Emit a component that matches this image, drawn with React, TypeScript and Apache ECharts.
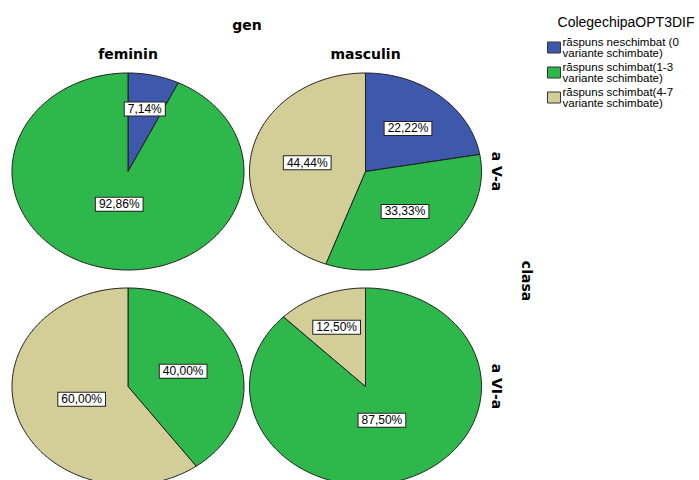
import React, { useEffect, useRef } from "react";
import * as echarts from "echarts";

// ---- data ----
const legendTitle = "ColegechipaOPT3DIF";
const outerTitle = "gen";
const rowTitle = "clasa";
const genders = ["feminin", "masculin"];
const classes = ["a V-a", "a VI-a"];
const categories = [
  "răspuns neschimbat (0\nvariante schimbate)",
  "răspuns schimbat(1-3\nvariante schimbate)",
  "răspuns schimbat(4-7\nvariante schimbate)",
];
// panel order: feminin·a V-a, masculin·a V-a, feminin·a VI-a, masculin·a VI-a
const neschimbat = [7.14, 22.22, 0, 0];
const schimbat13 = [92.86, 33.33, 40.0, 87.5];
const schimbat47 = [0, 44.44, 60.0, 12.5];
const seriesValues = [neschimbat, schimbat13, schimbat47];
const colors = ["#3e58ac", "#2eb84b", "#d3ce98"];

// ---- layout ----
const COL_CX = [128, 365.5];
const ROW_CY = [171.5, 386.5];
const RX = 116;
const RY = 98.5;
const LABEL_F = [
  [0.65, 0.34, 0],
  [0.57, 0.53, 0.51],
  [0, 0.5, 0.42],
  [0, 0.37, 0.65],
];

const fmt = (v: number) => v.toFixed(2).replace(".", ",") + "%";

export default function App() {
  const ref = useRef<HTMLDivElement>(null);
  useEffect(() => {
    document.body.style.margin = "0";
    const chart = echarts.init(ref.current!, null, { renderer: "svg" });
    const series = categories.map((name, k) => ({
      type: "custom",
      name,
      coordinateSystem: "none",
      itemStyle: { color: colors[k] },
      data: seriesValues[k].map((v, p) => [p, v]),
      renderItem: (params: any, api: any) => {
        const p = api.value(0);
        const v = api.value(1);
        if (!v) return null;
        const kk = params.seriesIndex;
        const vals = seriesValues.map((a) => a[p]);
        const total = vals.reduce((s, x) => s + x, 0);
        let before = 0;
        for (let i = 0; i < kk; i++) before += vals[i];
        const a0 = (before / total) * Math.PI * 2;
        const a1 = ((before + v) / total) * Math.PI * 2;
        const cx = COL_CX[p % 2];
        const cy = ROW_CY[Math.floor(p / 2)];
        const pts: number[][] = [[cx, cy]];
        const n = Math.max(2, Math.ceil(((a1 - a0) / (Math.PI * 2)) * 360));
        for (let i = 0; i <= n; i++) {
          const a = a0 + ((a1 - a0) * i) / n;
          pts.push([cx + RX * Math.sin(a), cy - RY * Math.cos(a)]);
        }
        const am = (a0 + a1) / 2;
        const f = LABEL_F[p][kk];
        const lx = cx + f * RX * Math.sin(am);
        const ly = cy - f * RY * Math.cos(am);
        return {
          type: "group",
          children: [
            {
              type: "polygon",
              shape: { points: pts },
              style: { fill: api.visual("color"), stroke: "#1e1e1e", lineWidth: 1 },
            },
            {
              type: "text",
              x: lx,
              y: ly,
              z2: 100,
              style: {
                text: fmt(v),
                fill: "#000",
                font: '12px "Liberation Sans", Arial, sans-serif',
                align: "center",
                verticalAlign: "middle",
                backgroundColor: "#fff",
                borderColor: "#222",
                borderWidth: 1,
                padding: [1, 3, 0, 3],
              },
            },
          ],
        };
      },
    }));

    const boldFont = 'bold 14px "DejaVu Sans", sans-serif';
    chart.setOption({
      animation: false,
      backgroundColor: "#fff",
      legend: {
        orient: "vertical",
        left: 547,
        top: 36,
        padding: 0,
        itemWidth: 13,
        itemHeight: 11,
        itemGap: 2,
        icon: "rect",
        selectedMode: false,
        itemStyle: { borderColor: "#333", borderWidth: 1 },
        textStyle: {
          fontFamily: '"Liberation Sans", Arial, sans-serif',
          fontSize: 11.5,
          lineHeight: 11,
          color: "#000",
          padding: [0, 0, 0, -3],
        },
        data: categories,
      },
      graphic: [
        {
          type: "text",
          x: 626,
          y: 22,
          style: {
            text: legendTitle,
            font: '14px "Liberation Sans", Arial, sans-serif',
            fill: "#000",
            align: "center",
            verticalAlign: "middle",
          },
        },
        {
          type: "text",
          x: 247,
          y: 25,
          style: { text: outerTitle, font: boldFont, fill: "#000", align: "center", verticalAlign: "middle" },
        },
        ...genders.map((g, i) => ({
          type: "text",
          x: COL_CX[i],
          y: 54,
          style: { text: g, font: boldFont, fill: "#000", align: "center", verticalAlign: "middle" },
        })),
        ...classes.map((c, i) => ({
          type: "text",
          x: 497,
          y: ROW_CY[i],
          rotation: -Math.PI / 2,
          style: { text: c, font: boldFont, fill: "#000", align: "center", verticalAlign: "middle" },
        })),
        {
          type: "text",
          x: 527,
          y: 281,
          rotation: -Math.PI / 2,
          style: { text: rowTitle, font: boldFont, fill: "#000", align: "center", verticalAlign: "middle" },
        },
      ],
      series,
    });
    return () => chart.dispose();
  }, []);
  return <div ref={ref} style={{ width: 699, height: 480 }} />;
}
